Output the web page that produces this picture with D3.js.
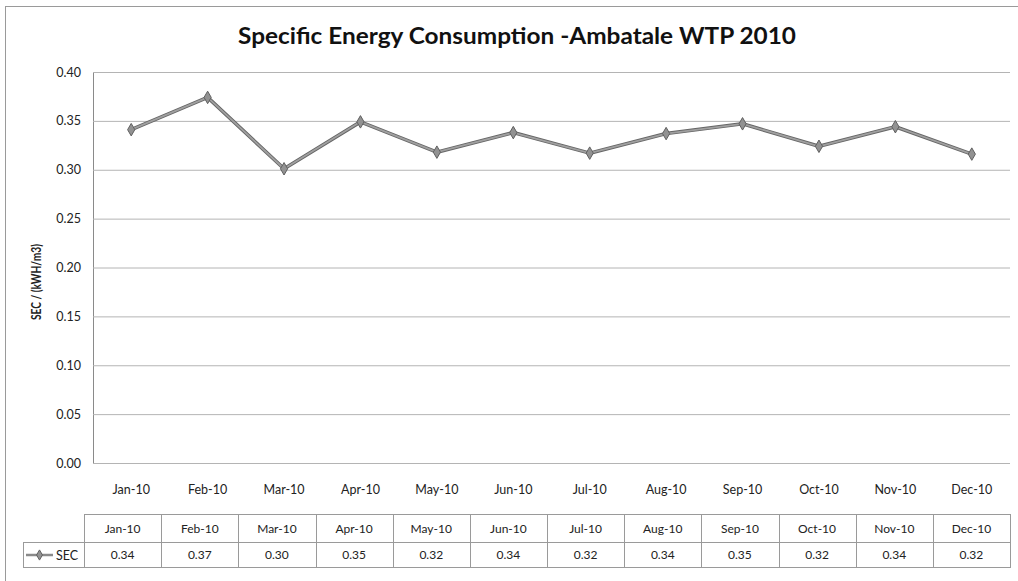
<!DOCTYPE html>
<html>
<head>
<meta charset="utf-8">
<title>Specific Energy Consumption</title>
<style>
  body { margin: 0; background: #fff; }
  svg { display: block; font-family: Lato, "Open Sans", sans-serif; }
</style>
</head>
<body>
<script src="https://cdn.jsdelivr.net/npm/d3@7"></script>
<script>
// chart data
var months = ["Jan-10", "Feb-10", "Mar-10", "Apr-10", "May-10", "Jun-10",
              "Jul-10", "Aug-10", "Sep-10", "Oct-10", "Nov-10", "Dec-10"];
var sec = [0.341, 0.374, 0.301, 0.349, 0.318, 0.338, 0.317, 0.337, 0.347, 0.324, 0.344, 0.316];
var yTicks = [0, 0.05, 0.10, 0.15, 0.20, 0.25, 0.30, 0.35, 0.40];
var seriesName = "SEC";

var W = 1018, H = 581;
var svg = d3.select("body").append("svg")
    .attr("width", W)
    .attr("height", H);

// outer chart border
svg.append("rect")
    .attr("x", 5.5).attr("y", 6.5)
    .attr("width", W + 10).attr("height", H + 10)
    .attr("fill", "#fff")
    .attr("stroke", "#9a9a9a")
    .attr("stroke-width", 1);

svg.append("text")
    .attr("x", 517).attr("y", 44)
    .attr("text-anchor", "middle")
    .attr("font-size", 22)
    .attr("font-weight", "bold")
    .attr("fill", "#111")
    .attr("textLength", 558)
    .attr("lengthAdjust", "spacingAndGlyphs")
    .text("Specific Energy Consumption -Ambatale WTP 2010");

var plotL = 93, plotR = 1010, plotT = 72, plotB = 463;

var x = d3.scaleBand().domain(months).range([plotL, plotR]);
var y = d3.scaleLinear().domain([0, 0.40]).range([plotB, plotT]);

// gridlines
svg.append("g")
    .attr("transform", "translate(" + plotL + ",0)")
    .call(d3.axisLeft(y).tickValues(yTicks).tickSize(-(plotR - plotL)).tickFormat(d3.format(".2f")).tickPadding(12))
    .call(function (g) {
      g.select(".domain").attr("stroke", "#8a8a8a");
      g.selectAll(".tick line").attr("stroke", "#b4b4b4");
      g.selectAll(".tick text").attr("font-size", 12.5).attr("fill", "#222")
        .attr("font-family", "Lato, 'Open Sans', sans-serif");
    });

// category labels under the plot
svg.append("g")
    .attr("transform", "translate(0," + plotB + ")")
    .call(d3.axisBottom(x).tickSize(0).tickPadding(22))
    .call(function (g) {
      g.select(".domain").remove();
      g.selectAll(".tick text").attr("font-size", 12.5).attr("fill", "#222")
        .attr("font-family", "Lato, 'Open Sans', sans-serif");
    });

svg.append("text")
    .attr("transform", "translate(40.5,282) rotate(-90)")
    .attr("text-anchor", "middle")
    .attr("font-size", 13.5)
    .attr("font-weight", "bold")
    .attr("fill", "#222")
    .attr("textLength", 76)
    .attr("lengthAdjust", "spacingAndGlyphs")
    .text("SEC / (kWH/m3)");

// the series line
var line = d3.line()
    .x(function (d, i) { return x(months[i]) + x.bandwidth() / 2; })
    .y(function (d) { return y(d); });

svg.append("path")
    .datum(sec)
    .attr("d", line)
    .attr("fill", "none")
    .attr("stroke", "#666")
    .attr("stroke-width", 3.6)
    .attr("stroke-linejoin", "round");
svg.append("path")
    .datum(sec)
    .attr("d", line)
    .attr("fill", "none")
    .attr("stroke", "#a0a0a0")
    .attr("stroke-width", 1.8)
    .attr("stroke-linejoin", "round");

var diamond = d3.symbol().type(d3.symbolDiamond).size(45);
svg.append("g").selectAll("path")
    .data(sec)
    .enter().append("path")
    .attr("transform", function (d, i) {
      return "translate(" + (x(months[i]) + x.bandwidth() / 2) + "," + y(d) + ")";
    })
    .attr("d", diamond)
    .attr("fill", "#929292")
    .attr("stroke", "#606060")
    .attr("stroke-width", 1);

// data table
var tabL = 84, tabR = 1010, rowTop = 514, rowMid = 542, rowBot = 567, legL = 23;
var tx = d3.scaleBand().domain(months).range([tabL, tabR]);
var table = svg.append("g").attr("stroke", "#9a9a9a").attr("stroke-width", 1).attr("fill", "none");

table.append("rect")
    .attr("x", tabL + 0.5).attr("y", rowTop + 0.5)
    .attr("width", tabR - tabL).attr("height", rowBot - rowTop);
table.append("rect")
    .attr("x", legL + 0.5).attr("y", rowMid + 0.5)
    .attr("width", tabL - legL).attr("height", rowBot - rowMid);
table.append("line")
    .attr("x1", tabL).attr("x2", tabR)
    .attr("y1", rowMid + 0.5).attr("y2", rowMid + 0.5);
table.selectAll("line.col")
    .data(months.slice(1))
    .enter().append("line")
    .attr("class", "col")
    .attr("x1", function (d) { return Math.round(tx(d)) + 0.5; })
    .attr("x2", function (d) { return Math.round(tx(d)) + 0.5; })
    .attr("y1", rowTop).attr("y2", rowBot);

svg.append("g").selectAll("text")
    .data(months)
    .enter().append("text")
    .attr("x", function (d) { return tx(d) + tx.bandwidth() / 2; })
    .attr("y", (rowTop + rowMid) / 2 + 4.5)
    .attr("text-anchor", "middle")
    .attr("font-size", 12)
    .attr("fill", "#222")
    .text(function (d) { return d; });

svg.append("g").selectAll("text")
    .data(sec)
    .enter().append("text")
    .attr("x", function (d, i) { return tx(months[i]) + tx.bandwidth() / 2; })
    .attr("y", (rowMid + rowBot) / 2 + 4.5)
    .attr("text-anchor", "middle")
    .attr("font-size", 12)
    .attr("fill", "#222")
    .text(function (d) { return d3.format(".2f")(d); });

// legend key inside the table
var keyY = (rowMid + rowBot) / 2 + 0.5;
svg.append("line")
    .attr("x1", 26).attr("x2", 53)
    .attr("y1", keyY).attr("y2", keyY)
    .attr("stroke", "#8a8a8a").attr("stroke-width", 2.5);
svg.append("path")
    .attr("transform", "translate(39.5," + keyY + ")")
    .attr("d", d3.symbol().type(d3.symbolDiamond).size(30))
    .attr("fill", "#929292").attr("stroke", "#606060");
svg.append("text")
    .attr("x", 56).attr("y", keyY + 4.5)
    .attr("font-size", 12.5)
    .attr("fill", "#222")
    .text(seriesName);
</script>
</body>
</html>
